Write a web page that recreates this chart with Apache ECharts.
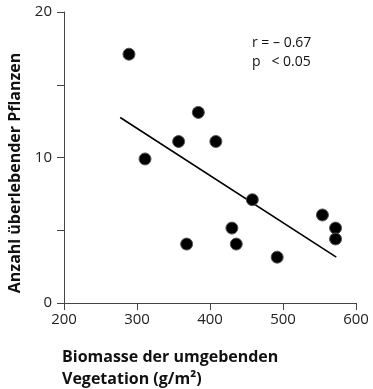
<!DOCTYPE html>
<html><head><meta charset="utf-8">
<script src="https://cdn.jsdelivr.net/npm/echarts@6/dist/echarts.min.js"></script>
<style>html,body{margin:0;padding:0;background:#fff}#c{width:373px;height:389px}</style>
</head><body><div id="c"></div>
<script>
var biomass = [289, 311, 357, 384, 368, 408, 430, 436, 458, 492, 554, 572, 572];
var survivors = [17.1, 9.9, 11.1, 13.1, 4.05, 11.1, 5.15, 4.05, 7.1, 3.15, 6.05, 5.15, 4.4];
var fitLineX = [277, 573];
var fitLineY = [12.75, 3.15];
var statLines = ['r = \u2013 0.67', 'p   < 0.05'];
var xTitle = 'Biomasse der umgebenden\nVegetation (g/m\u00b2)';
var yTitle = 'Anzahl \u00fcberlebender Pflanzen';

var chart = echarts.init(document.getElementById('c'), null, {renderer: 'canvas'});
var font = '"Open Sans", Lato, sans-serif';
var axisColor = '#444';
chart.setOption({
  animation: false,
  textStyle: {fontFamily: font},
  grid: {left: 64, right: 17, top: 12, bottom: 86, containLabel: false, outerBoundsMode: 'none'},
  xAxis: {
    type: 'value', min: 200, max: 600, interval: 100,
    axisLine: {show: true, lineStyle: {color: axisColor, width: 1}},
    axisTick: {show: true, inside: false, length: 7, lineStyle: {color: axisColor}},
    axisLabel: {fontSize: 15, color: '#222', margin: 9},
    splitLine: {show: false}
  },
  yAxis: {
    type: 'value', min: 0, max: 20, interval: 5,
    axisLine: {show: true, lineStyle: {color: axisColor, width: 1}},
    axisTick: {show: true, inside: false, length: 7, lineStyle: {color: axisColor}},
    axisLabel: {fontSize: 15, color: '#222', margin: 12,
      formatter: function (v) { return v % 10 === 0 ? String(v) : ''; }},
    splitLine: {show: false}
  },
  series: [
    {
      type: 'line',
      data: fitLineX.map(function (x, i) { return [x, fitLineY[i]]; }),
      symbol: 'none',
      lineStyle: {color: '#000', width: 1.6},
      z: 2
    },
    {
      type: 'scatter',
      data: biomass.map(function (x, i) { return [x, survivors[i]]; }),
      symbol: 'circle', symbolSize: 12,
      itemStyle: {color: '#000', borderColor: '#555', borderWidth: 1, opacity: 1},
      z: 3
    }
  ],
  graphic: [
    {type: 'text', left: 252, top: 36, style: {text: statLines[0], fontFamily: font, fontSize: 14, fill: '#111'}},
    {type: 'text', left: 252, top: 55, style: {text: statLines[1], fontFamily: font, fontSize: 14, fill: '#111'}},
    {type: 'text', left: 62, top: 346, style: {text: xTitle, fontFamily: font, fontSize: 16, fontWeight: 'bold', fill: '#111', lineHeight: 22}},
    {type: 'text', x: 15, y: 173, rotation: Math.PI / 2,
      style: {text: yTitle, fontFamily: font, fontSize: 16, fontWeight: 'bold', fill: '#111', align: 'center', verticalAlign: 'middle'}}
  ]
});
</script>
</body></html>
